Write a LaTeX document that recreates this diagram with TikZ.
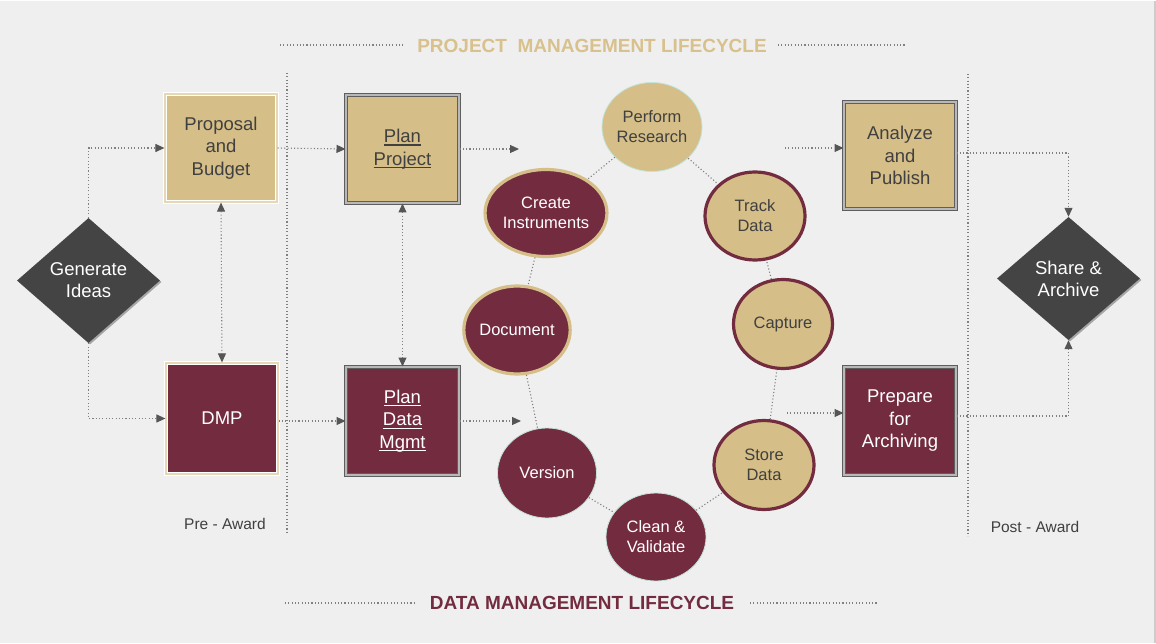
\documentclass[tikz,border=0pt]{standalone}
\usepackage{fontspec}
\setmainfont{Liberation Sans}
\usetikzlibrary{shapes.geometric,arrows.meta,shadows}
\definecolor{gold}{HTML}{D5BE87}
\definecolor{titlegold}{HTML}{D8C18C}
\definecolor{maroon}{HTML}{732C3F}
\definecolor{dia}{HTML}{444444}
\definecolor{txt}{HTML}{404040}
\definecolor{dotc}{HTML}{808080}
\definecolor{arrc}{HTML}{555555}
\definecolor{bg}{HTML}{EFEFEF}
\definecolor{tealb}{HTML}{C3E4DA}
\definecolor{frameg}{HTML}{5E5E5E}
\definecolor{framel}{HTML}{B8B8B8}
\newsavebox\ulbox
\newcommand\myul[1]{\sbox\ulbox{#1}\rlap{\rule[-3pt]{\wd\ulbox}{1.2pt}}\usebox\ulbox}
\begin{document}
\begin{tikzpicture}[x=1pt,y=-1pt,
 box/.style={rectangle, inner sep=0pt, align=center, font=\fontsize{18.5}{22.5}\selectfont},
 wframe/.style={draw=white, double=gold!60!white, line width=1.2pt, double distance=1.2pt},
 gframe/.style={draw=frameg, double=framel, line width=1pt, double distance=1.5pt},
 goldbox/.style={box, fill=gold, text=txt},
 marbox/.style={box, fill=maroon, text=white},
 diam/.style={diamond, fill=dia, text=white, inner sep=0pt, align=center,
   font=\fontsize{18.5}{22}\selectfont,
   drop shadow={shadow xshift=1.5pt, shadow yshift=-1.5pt, opacity=0.3, fill=black}},
 cyc/.style={ellipse, inner sep=0pt, align=center, font=\fontsize{16.5}{20}\selectfont},
 mg/.style={cyc, fill=maroon, draw=gold, line width=3.2pt, text=white},
 gm/.style={cyc, fill=gold, draw=maroon, line width=3.2pt, text=txt},
 gt/.style={cyc, fill=gold, draw=tealb, line width=0.8pt, text=txt},
 mt/.style={cyc, fill=maroon, draw=tealb, line width=0.8pt, text=white},
 dotl/.style={draw=dotc, line width=1.1pt, dash pattern=on 1.1pt off 2.2pt},
 conn/.style={dotl, -{Triangle[length=9pt,width=8pt,color=arrc]}},
 conn2/.style={dotl, {Triangle[length=9pt,width=8pt,color=arrc]}-{Triangle[length=9pt,width=8pt,color=arrc]}},
 lbl/.style={inner sep=0pt, text=txt, font=\fontsize{15.5}{18}\selectfont},
 ttl/.style={inner sep=0pt, font=\fontsize{19}{22}\selectfont\bfseries}
]
\fill[bg] (0,0) rectangle (1156,642);
\draw[color=black!20, line width=2pt] (1155,0) -- (1155,642);
\useasboundingbox (0,0) rectangle (1156,642);

% titles
\node[ttl, text=titlegold] (ptitle) at (592,45) {PROJECT\ \ MANAGEMENT LIFECYCLE};
\node[ttl, text=maroon] (dtitle) at (582,602) {DATA MANAGEMENT LIFECYCLE};
\coordinate (pt1) at (280,44); \coordinate (pt2) at (405,44);
\coordinate (pt3) at (778,44); \coordinate (pt4) at (905,44);
\draw[dotl] (pt1) -- (pt2); \draw[dotl] (pt3) -- (pt4);
\coordinate (dt1) at (285,602); \coordinate (dt2) at (415,602);
\coordinate (dt3) at (750,602); \coordinate (dt4) at (878,602);
\draw[dotl] (dt1) -- (dt2); \draw[dotl] (dt3) -- (dt4);

% separators
\coordinate (s1a) at (287,72); \coordinate (s1b) at (287,533);
\coordinate (s2a) at (968,73); \coordinate (s2b) at (968,535);
\draw[dotl] (s1a) -- (s1b);
\draw[dotl] (s2a) -- (s2b);
\node[lbl] (pre) at (225,523) {Pre - Award};
\node[lbl] (post) at (1035,526) {Post - Award};

% boxes
\node[goldbox, wframe, minimum width=112pt, minimum height=108pt] (prop) at (221,147) {Proposal\\and\\Budget};
\node[goldbox, gframe, minimum width=113pt, minimum height=108pt] (pp) at (402.5,148) {\myul{Plan}\\\myul{Project}};
\node[marbox, wframe, minimum width=112pt, minimum height=111pt] (dmp) at (222,417.5) {DMP};
\node[marbox, gframe, minimum width=113pt, minimum height=108pt] (pdm) at (402.5,420) {\myul{Plan}\\\myul{Data}\\\myul{Mgmt}};
\node[goldbox, gframe, minimum width=112pt, minimum height=107pt] (ap) at (900,154.5) {Analyze\\and\\Publish};
\node[marbox, gframe, minimum width=112pt, minimum height=108pt] (pa) at (900,420) {Prepare\\for\\Archiving};

% diamonds
\node[diam, minimum width=143pt, minimum height=125pt] (gen) at (88.5,279.5) {Generate\\Ideas};
\node[diam, minimum width=143pt, minimum height=123pt] (sa) at (1068.5,277.5) {Share \&\\Archive};

% cycle
\node[gt, minimum width=100pt, minimum height=89pt] (pr) at (652,126) {Perform\\Research};
\node[mg, minimum width=100pt, minimum height=87pt] (ci) at (546,212) {Create\\Instruments};
\node[gm, minimum width=100pt, minimum height=88pt] (td) at (755,215) {Track\\Data};
\node[mg, minimum width=99pt, minimum height=88pt] (doc) at (517,329) {Document};
\node[gm, minimum width=99pt, minimum height=89pt] (cap) at (783,323) {Capture};
\node[mt, minimum width=99pt, minimum height=90pt] (ver) at (547,472) {Version};
\node[gm, minimum width=100pt, minimum height=89pt] (sd) at (764,464) {Store\\Data};
\node[mt, minimum width=100pt, minimum height=88pt] (cv) at (656,536) {Clean \&\\Validate};

\draw[dotl] (pr) -- (ci);
\draw[dotl] (pr) -- (td);
\draw[dotl] (ci) -- (doc);
\draw[dotl] (doc) -- (ver);
\draw[dotl] (ver) -- (cv);
\draw[dotl] (cv) -- (sd);
\draw[dotl] (sd) -- (cap);
\draw[dotl] (cap) -- (td);

% connectors
\draw[conn] (gen.north) |- (prop.west);
\draw[conn] (gen.south) |- (dmp.west);
\draw[conn2] (prop.south) -- (dmp.north);
\draw[conn] (prop.east) -- (pp.west);
\draw[conn] (pdm.west -| dmp.east) -- (pdm.west);
\draw[conn2] (pp.south) -- (pdm.north);
\coordinate (ppe) at (519,148);
\draw[conn] (pp.east) -- (ppe);
\coordinate (pdme) at (521,420);
\draw[conn] (pdm.east) -- (pdme);
\coordinate (aps) at (785,147);
\draw[conn] (aps) -- (aps -| ap.west);
\coordinate (pas) at (787,412);
\draw[conn] (pas) -- (pas -| pa.west);
\draw[conn] ([yshift=2.5pt]ap.east) -| (sa.north);
\draw[conn] ([yshift=5pt]pa.east) -| (sa.south);
\end{tikzpicture}
\end{document}
